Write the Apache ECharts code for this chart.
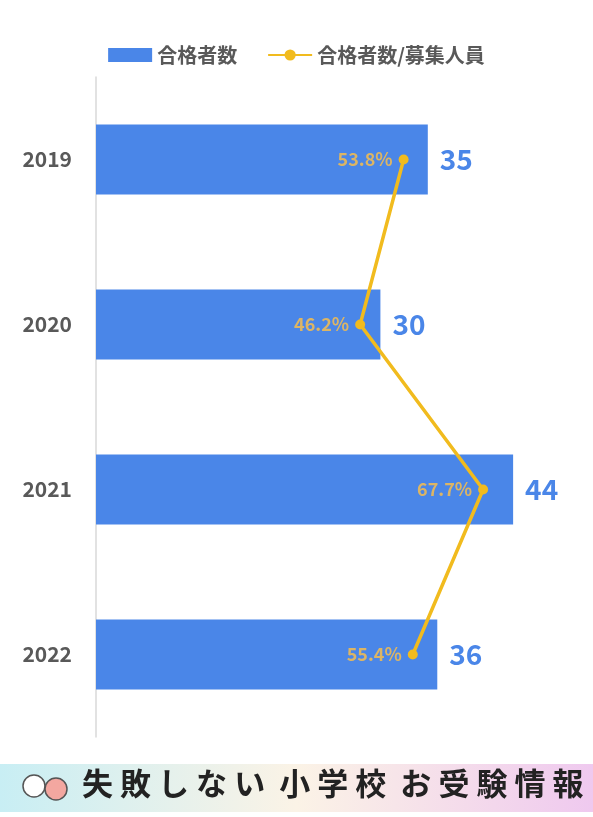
<!DOCTYPE html>
<html><head><meta charset="utf-8">
<script src="https://cdn.jsdelivr.net/npm/echarts@6/dist/echarts.min.js"></script>
<style>html,body{margin:0;background:#fff}#c{width:593px;height:817px}</style>
</head><body><div id="c"></div>
<script>
var years = ['2019', '2020', '2021', '2022'];
var passed = [35, 30, 44, 36];
var ratio = [53.8, 46.2, 67.7, 55.4];

var chart = echarts.init(document.getElementById('c'));
var font = '"Noto Sans CJK JP", "Noto Sans", sans-serif';
chart.setOption({
  animation: false,
  textStyle: { fontFamily: font },
  legend: {
    top: 40, left: 'center', itemGap: 30, itemWidth: 44, itemHeight: 14,
    textStyle: { fontSize: 20, fontWeight: 'bold', color: '#595959' },
    data: [
      { name: '合格者数', icon: 'rect' },
      { name: '合格者数/募集人員' }
    ]
  },
  grid: { left: 96, right: 23, top: 77, bottom: 80 },
  xAxis: [
    { type: 'value', min: 0, max: 50, show: false },
    { type: 'value', min: 0, max: 82.9, show: false }
  ],
  yAxis: {
    type: 'category', data: years, inverse: true,
    axisLine: { lineStyle: { color: '#d9d9d9', width: 1.5 } },
    axisTick: { show: false },
    axisLabel: { fontSize: 21, fontWeight: 'bold', color: '#595959', margin: 24 }
  },
  series: [
    {
      name: '合格者数', type: 'bar', data: passed, barWidth: 70,
      itemStyle: { color: '#4a86e8' },
      label: { show: true, position: 'right', distance: 12, fontSize: 28, fontWeight: 'bold', color: '#4a86e8' }
    },
    {
      name: '合格者数/募集人員', type: 'line', xAxisIndex: 1, data: ratio,
      symbol: 'circle', symbolSize: 10,
      lineStyle: { color: '#f1bb1e', width: 3.5 },
      itemStyle: { color: '#f1bb1e' },
      label: { show: true, position: 'left', distance: 6, fontSize: 18, fontWeight: 'bold', color: '#dcb565', formatter: '{c}%' }
    }
  ],
  graphic: [
    {
      type: 'rect', shape: { x: 0, y: 764, width: 593, height: 48 },
      style: { fill: new echarts.graphic.LinearGradient(0, 0, 1, 0, [
        { offset: 0, color: '#c8eef4' }, { offset: 0.5, color: '#fbf3e6' }, { offset: 1, color: '#efc9ef' }
      ]) }
    },
    { type: 'circle', shape: { cx: 34, cy: 786, r: 11 }, style: { fill: '#fff', stroke: '#555', lineWidth: 1.5 } },
    { type: 'circle', shape: { cx: 56, cy: 789, r: 11 }, style: { fill: '#f3a7a0', stroke: '#555', lineWidth: 1.5 } },
    {
      type: 'text', left: 82, top: 768,
      style: { text: '失 敗 し な い  小 学 校  お 受 験 情 報', fontSize: 31, fontWeight: 'bold', fill: '#222', fontFamily: font }
    }
  ]
});
</script></body></html>
